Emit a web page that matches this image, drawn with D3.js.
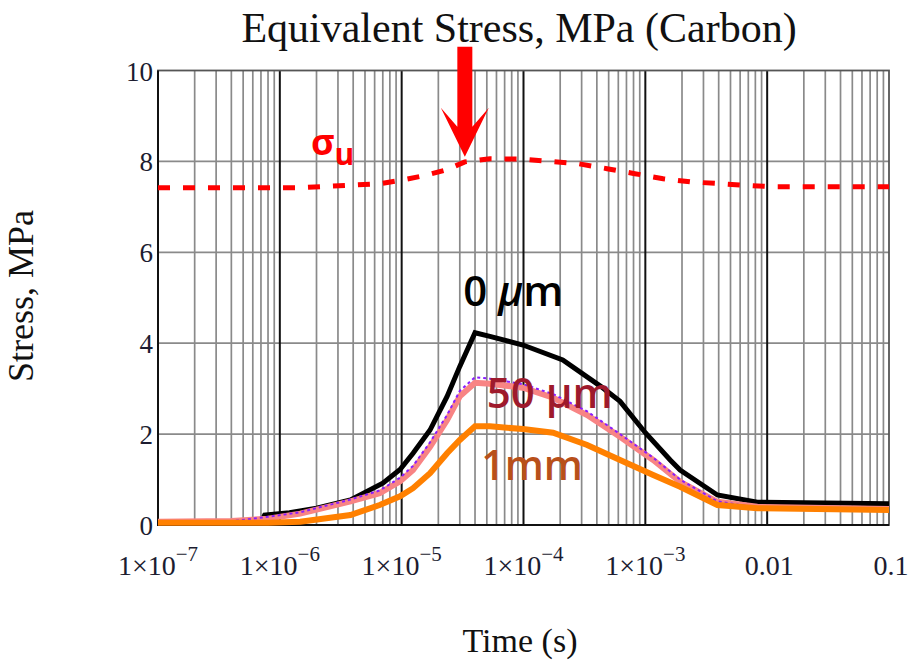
<!DOCTYPE html>
<html>
<head>
<meta charset="utf-8">
<script src="https://cdn.jsdelivr.net/npm/d3@7"></script>
<style>
  body { margin: 0; background: #fff; }
</style>
</head>
<body>
<div id="chart"></div>
<script>
// time values (s) and stresses (MPa)
var timeSteps = [1e-7, 7.0e-7, 7.5e-7, 1.2e-6, 2.0e-6, 3.8e-6, 7.0e-6, 9.7e-6, 1.24e-5, 1.71e-5, 2.36e-5, 3.0e-5, 4.0e-5, 5.3e-5, 9.9e-5, 2.1e-4, 4.3e-4, 6.2e-4, 1e-3, 1.6e-3, 1.93e-3, 3.9e-3, 8.3e-3, 0.1];
var stress0um = [0.05, 0.05, 0.22, 0.27, 0.37, 0.55, 0.92, 1.22, 1.58, 2.09, 2.83, 3.49, 4.23, 4.15, 3.96, 3.63, 3.05, 2.72, 2.03, 1.43, 1.21, 0.66, 0.50, 0.47];

var timeSteps2 = [1e-7, 4.0e-7, 8.0e-7, 1.47e-6, 3.8e-6, 6.6e-6, 9.7e-6, 1.24e-5, 1.71e-5, 2.36e-5, 3.0e-5, 4.0e-5, 5.3e-5, 9.9e-5, 1.75e-4, 3.33e-4, 6.2e-4, 1.16e-3, 1.93e-3, 3.9e-3, 8.3e-3, 0.1];
var stress50um = [0.07, 0.09, 0.14, 0.25, 0.52, 0.70, 0.96, 1.21, 1.72, 2.31, 2.83, 3.13, 3.11, 3.02, 2.80, 2.42, 1.94, 1.43, 0.95, 0.51, 0.40, 0.35];
var stressThin = [0.07, 0.08, 0.18, 0.28, 0.56, 0.76, 1.04, 1.30, 1.82, 2.42, 2.95, 3.25, 3.22, 3.10, 2.88, 2.50, 2.00, 1.48, 1.00, 0.52, 0.38, 0.36];
var stress1mm = [0.05, 0.05, 0.05, 0.07, 0.22, 0.44, 0.63, 0.81, 1.14, 1.58, 1.87, 2.17, 2.17, 2.11, 2.03, 1.76, 1.43, 1.10, 0.84, 0.44, 0.37, 0.33];

var timeUlt = [1e-7, 1.47e-6, 6.6e-6, 9.7e-6, 1.56e-5, 2.36e-5, 3.3e-5, 5.3e-5, 9.8e-5, 1.65e-4, 2.8e-4, 4.85e-4, 8.2e-4, 1.4e-3, 2.33e-3, 4.1e-3, 7.0e-3, 0.0116, 0.1];
var stressUlt = [7.42, 7.42, 7.51, 7.58, 7.69, 7.82, 7.99, 8.06, 8.05, 8.00, 7.95, 7.84, 7.73, 7.62, 7.55, 7.51, 7.47, 7.44, 7.44];

var yTicks = [0, 2, 4, 6, 8, 10];
var xTickExp = [-7, -6, -5, -4, -3];
var xTickPlain = [[0.01, "0.01"], [0.1, "0.1"]];

// set the dimensions and margins of the graph
var margin = {top: 70.5, right: 25, bottom: 136, left: 158},
	width = 914 - margin.left - margin.right,
	height = 661 - margin.top - margin.bottom;

var svgRoot = d3.select("#chart")
	.append("svg")
	.attr("width", 914)
	.attr("height", 661);

var svg = svgRoot.append("g")
	.attr("transform", "translate(" + margin.left + "," + margin.top + ")");

var x = d3.scaleLog()
	.domain([1e-7, 0.1])
	.range([0, width]);

var y = d3.scaleLinear()
	.domain([0, 10])
	.range([height, 0]);

var SERIF = "'Liberation Serif', 'Times New Roman', serif";
var SANS = "'Open Sans', 'Noto Sans', sans-serif";
var TICK_COLOR = "#1c1c30";

// minor grid
var minorTicks = [];
for (var e = -7; e <= -2; e++) {
	for (var k = 2; k <= 9; k++) minorTicks.push(k * Math.pow(10, e));
}
svg.append("g")
	.selectAll("line")
	.data(minorTicks)
	.enter()
	.append("line")
	.attr("x1", d => x(d)).attr("x2", d => x(d))
	.attr("y1", 0).attr("y2", height)
	.attr("stroke", "#8a8a8a")
	.attr("stroke-width", 1.7);

svg.append("g")
	.selectAll("line")
	.data([2, 4, 6, 8])
	.enter()
	.append("line")
	.attr("x1", 0).attr("x2", width)
	.attr("y1", d => y(d)).attr("y2", d => y(d))
	.attr("stroke", "#8a8a8a")
	.attr("stroke-width", 1.7);

// decade lines
svg.append("g")
	.selectAll("line")
	.data([1e-6, 1e-5, 1e-4, 1e-3, 1e-2])
	.enter()
	.append("line")
	.attr("x1", d => x(d)).attr("x2", d => x(d))
	.attr("y1", 0).attr("y2", height)
	.attr("stroke", "#111")
	.attr("stroke-width", 2);

// frame
svg.append("rect")
	.attr("width", width)
	.attr("height", height)
	.attr("fill", "none")
	.attr("stroke", "#555")
	.attr("stroke-width", 1.8);
svg.append("path")
	.attr("d", "M0,0V" + height + "H" + width)
	.attr("fill", "none")
	.attr("stroke", "#111")
	.attr("stroke-width", 2);

// y tick labels
svg.append("g")
	.selectAll("text")
	.data(yTicks)
	.enter()
	.append("text")
	.attr("x", -5)
	.attr("y", d => y(d) + 10)
	.attr("text-anchor", "end")
	.attr("font-family", SERIF)
	.attr("font-size", 27)
	.attr("fill", TICK_COLOR)
	.text(d => d);

// x tick labels 1x10^n
var expLabels = svg.append("g")
	.selectAll("text")
	.data(xTickExp)
	.enter()
	.append("text")
	.attr("x", d => x(Math.pow(10, d)))
	.attr("y", height + 50)
	.attr("text-anchor", "middle")
	.attr("font-family", SERIF)
	.attr("font-size", 28)
	.attr("fill", TICK_COLOR);
expLabels.append("tspan").text("1\u00d710");
expLabels.append("tspan")
	.attr("dy", -14)
	.attr("font-size", 21)
	.text(d => "\u2212" + Math.abs(d));

svg.append("g")
	.selectAll("text")
	.data(xTickPlain)
	.enter()
	.append("text")
	.attr("x", d => x(d[0]) + 2)
	.attr("y", height + 50)
	.attr("text-anchor", "middle")
	.attr("font-family", SERIF)
	.attr("font-size", 28)
	.attr("fill", TICK_COLOR)
	.text(d => d[1]);

// lines
var line = d3.line()
	.x(d => x(d[0]))
	.y(d => y(d[1]));

function pairs(ts, vs) { return ts.map((t, i) => [t, vs[i]]); }

var seriesList = [
	{data: pairs(timeSteps, stress0um), color: "#000", w: 5, dash: null},
	{data: pairs(timeSteps2, stress50um), color: "#f88484", w: 6, dash: null},
	{data: pairs(timeSteps2, stressThin), color: "#8a1cff", w: 2, dash: "3,3"},
	{data: pairs(timeSteps2, stress1mm), color: "#ff8000", w: 6, dash: null},
	{data: pairs(timeUlt, stressUlt), color: "#ff0000", w: 5, dash: "12,13"}
];

svg.append("g")
	.selectAll("path")
	.data(seriesList)
	.enter()
	.append("path")
	.attr("d", d => line(d.data))
	.attr("fill", "none")
	.attr("stroke", d => d.color)
	.attr("stroke-width", d => d.w)
	.attr("stroke-dasharray", d => d.dash)
	.attr("stroke-linejoin", "miter");

// red arrow pointing at the sigma_u bump
var ax = x(3.3e-5), tipY = y(8.1);
svg.append("path")
	.attr("d", "M" + (ax - 7.5) + "," + (tipY - 110) +
		"V" + (tipY - 30) + "L" + (ax - 24) + "," + (tipY - 49) +
		"L" + ax + "," + tipY +
		"L" + (ax + 24) + "," + (tipY - 49) +
		"L" + (ax + 7.5) + "," + (tipY - 30) +
		"V" + (tipY - 110) + "Z")
	.attr("fill", "#ff0000");

// curve labels
var sig = svg.append("text")
	.attr("x", x(1.8e-6))
	.attr("y", y(8.0) - 6)
	.attr("font-family", SANS)
	.attr("font-weight", "bold")
	.attr("font-size", 36)
	.attr("fill", "#ff0000");
sig.append("tspan").text("\u03c3");
sig.append("tspan").attr("dy", 10).attr("font-size", 30).text("u");

var lbl0 = svg.append("text")
	.attr("x", x(3.2e-5))
	.attr("y", y(4.23) - 27)
	.attr("font-family", SANS)
	.attr("font-weight", 600)
	.attr("font-size", 42)
	.attr("fill", "#000");
lbl0.append("tspan").text("0 ");
lbl0.append("tspan").attr("font-style", "italic").text("\u03bc");
lbl0.append("tspan").text("m");

svg.append("text")
	.attr("x", x(5.0e-5))
	.attr("y", y(2.57))
	.attr("font-family", SANS)
	.attr("font-weight", 600)
	.attr("font-size", 42)
	.attr("fill", "#9e1a2c")
	.text("50 \u03bcm");

svg.append("text")
	.attr("x", x(4.5e-5))
	.attr("y", y(0.99))
	.attr("font-family", SANS)
	.attr("font-weight", 600)
	.attr("font-size", 41)
	.attr("fill", "#b8501a")
	.text("1mm");

// titles
svgRoot.append("text")
	.attr("x", 519)
	.attr("y", 42)
	.attr("text-anchor", "middle")
	.attr("font-family", SERIF)
	.attr("font-size", 42)
	.attr("fill", "#111")
	.text("Equivalent Stress, MPa (Carbon)");

svgRoot.append("text")
	.attr("transform", "translate(33,296)rotate(-90)")
	.attr("text-anchor", "middle")
	.attr("font-family", SERIF)
	.attr("font-size", 36)
	.attr("fill", "#111")
	.text("Stress, MPa");

svgRoot.append("text")
	.attr("x", 520)
	.attr("y", 652)
	.attr("text-anchor", "middle")
	.attr("font-family", SERIF)
	.attr("font-size", 34)
	.attr("fill", "#111")
	.text("Time (s)");
</script>
</body>
</html>
